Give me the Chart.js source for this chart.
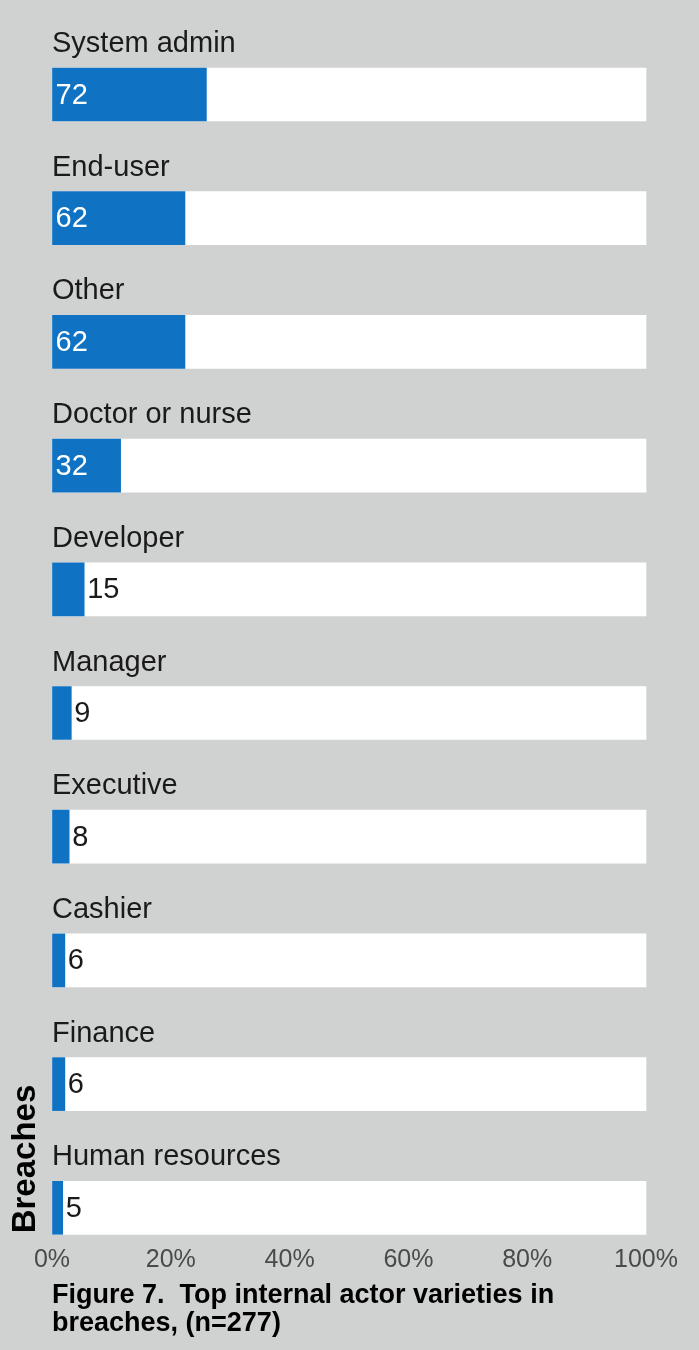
<!DOCTYPE html>
<html>
<head>
<meta charset="utf-8">
<script src="https://cdn.jsdelivr.net/npm/chart.js@4.4.1/dist/chart.umd.min.js"></script>
<style>
  html, body { margin: 0; padding: 0; background: #d0d2d1; }
  #wrap { width: 699px; height: 1350px; position: relative; }
  canvas { display: block; }
</style>
</head>
<body>
<div id="wrap"><canvas id="c" width="699" height="1350"></canvas></div>
<script>
// ---- data ----
const categories = ["System admin", "End-user", "Other", "Doctor or nurse", "Developer",
                    "Manager", "Executive", "Cashier", "Finance", "Human resources"];
const breaches = [72, 62, 62, 32, 15, 9, 8, 6, 6, 5];
const totalBreaches = 277;
const tickValues = [0, 20, 40, 60, 80, 100];
const axisTitle = "Breaches";
const captionLines = ["Figure 7.  Top internal actor varieties in", "breaches, (n=277)"];

// ---- styling ----
const FONT = "'Liberation Sans', Arial, Helvetica, sans-serif";
const BLUE = "#0f72c3";
const TRACK = "#ffffff";
const TEXT = "#1a1a1a";
const TICK = "#4a4a4a";

const shares = breaches.map(v => v / totalBreaches * 100);
const fullTrack = categories.map(() => 100);

const labelPlugin = {
  id: 'labels',
  afterDatasetsDraw(chart) {
    const ctx = chart.ctx;
    const meta = chart.getDatasetMeta(0);
    const area = chart.chartArea;
    ctx.save();
    meta.data.forEach((el, i) => {
      ctx.font = "29px " + FONT;
      ctx.fillStyle = TEXT;
      ctx.textAlign = "left";
      ctx.textBaseline = "alphabetic";
      ctx.fillText(categories[i], area.left, el.y - el.height / 2 - 16);
      const txt = String(breaches[i]);
      const w = ctx.measureText(txt).width;
      const barW = el.x - el.base;
      ctx.textBaseline = "middle";
      if (barW > w + 10) {
        ctx.fillStyle = "#ffffff";
        ctx.fillText(txt, el.base + 3, el.y + 1);
      } else {
        ctx.fillStyle = TEXT;
        ctx.fillText(txt, el.x + 3, el.y + 1);
      }
    });
    const last = meta.data[meta.data.length - 1];
    ctx.font = "bold 33px " + FONT;
    ctx.fillStyle = "#000000";
    ctx.translate(26, last.y + last.height / 2 - 1);
    ctx.rotate(-Math.PI / 2);
    ctx.textAlign = "left";
    ctx.textBaseline = "middle";
    ctx.fillText(axisTitle, 0, 0);
    ctx.restore();
  }
};

new Chart(document.getElementById('c'), {
  type: 'bar',
  data: {
    labels: categories,
    datasets: [
      { data: shares, backgroundColor: BLUE, barThickness: 53, grouped: false, clip: false },
      { data: fullTrack, backgroundColor: TRACK, barThickness: 53, grouped: false, clip: false }
    ]
  },
  options: {
    indexAxis: 'y',
    responsive: false,
    animation: false,
    events: [],
    layout: { padding: { left: 52, right: 53, top: 94.5, bottom: 12 } },
    scales: {
      y: {
        display: false,
        offset: false
      },
      x: {
        min: 0, max: 100,
        grid: { display: true, drawOnChartArea: false, drawTicks: true, tickLength: 37.5, tickColor: 'rgba(0,0,0,0)' },
        border: { display: false },
        afterBuildTicks(scale) { scale.ticks = tickValues.map(v => ({ value: v })); },
        afterFit(scale) { scale.height = 65.5; },
        ticks: {
          padding: 0,
          color: TICK,
          font: { family: FONT, size: 25 },
          callback: v => v + "%"
        }
      }
    },
    plugins: {
      legend: { display: false },
      tooltip: { enabled: false },
      title: {
        display: true,
        position: 'bottom',
        align: 'start',
        text: captionLines,
        color: "#000000",
        font: { family: FONT, size: 27, weight: 'bold', lineHeight: 1.05 },
        padding: { top: 8, bottom: 0 }
      }
    }
  },
  plugins: [labelPlugin]
});
</script>
</body>
</html>
